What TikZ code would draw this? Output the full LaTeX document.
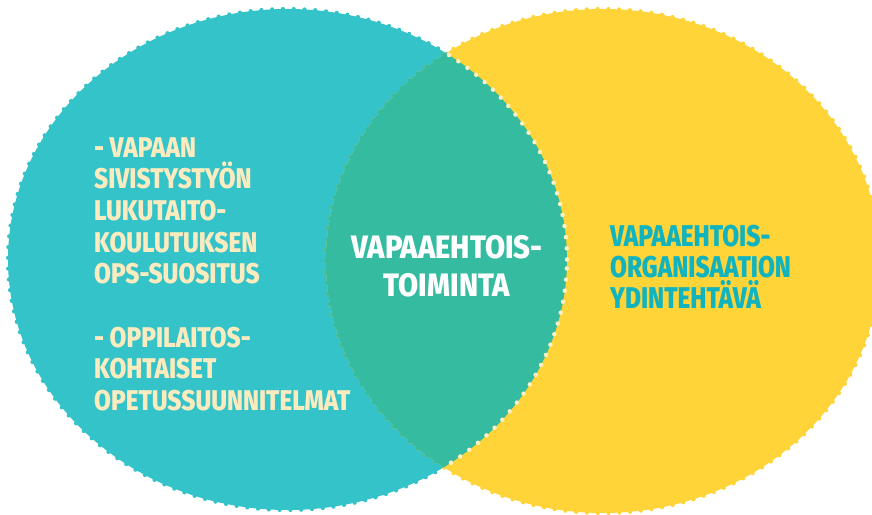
\documentclass[tikz,border=0pt]{standalone}
\usepackage{fontspec}
\setmainfont{Fira Sans}
\newfontfamily\leftfam{Fira Sans ExtraBold}[FakeStretch=0.855]
\newfontfamily\midfam{Fira Sans ExtraBold}[FakeStretch=0.9]
\newfontfamily\rightfam{Fira Sans ExtraBold}[FakeStretch=0.815]
\definecolor{tealc}{HTML}{33C3C8}
\definecolor{lensc}{HTML}{35BBA0}
\definecolor{yellc}{HTML}{FED438}
\definecolor{creamc}{HTML}{FCEBBE}
\definecolor{dotc}{HTML}{FCEFC6}
\definecolor{rtextc}{HTML}{10B3BE}
\tikzset{
  scallop/.style={line width=4.2pt, dash pattern=on 0pt off 10.8pt, line cap=round},
  creamdots/.style={draw=dotc, line width=4.5pt, dash pattern=on 0pt off 11.2pt, line cap=round},
  lefttext/.style={anchor=north west, inner sep=0pt, align=left, text=creamc,
    font={\leftfam\fontsize{28.5}{31.7}\selectfont}},
  midtext/.style={anchor=north, inner sep=0pt, align=center, text=white,
    font={\midfam\fontsize{32.4}{38}\selectfont}},
  righttext/.style={anchor=north west, inner sep=0pt, align=left, text=rtextc,
    font={\rightfam\fontsize{30}{31.2}\selectfont}}
}
\begin{document}
\begin{tikzpicture}[x=1pt,y=1pt]
\useasboundingbox (0,0) rectangle (872,514);
\def\tealE{(287.5,254.5) ellipse [x radius=279.5, y radius=250.5]}
\def\yellE{(603,253) ellipse [x radius=277, y radius=252]}
% teal circle
\fill[tealc] \tealE;
\draw[tealc, scallop] \tealE;
% yellow circle
\fill[yellc] \yellE;
\draw[yellc, scallop] \yellE;
% lens
\begin{scope}
  \clip \tealE;
  \fill[lensc] \yellE;
  \draw[lensc, scallop] \yellE;
\end{scope}
% cream dots on teal edge inside yellow
\begin{scope}
  \clip \yellE;
  \draw[creamdots] \tealE;
\end{scope}
% texts
\node[lefttext] (left) at (94,377) {- VAPAAN\\SIVISTYSTYÖN\\LUKUTAITO-\\KOULUTUKSEN\\OPS-SUOSITUS\\[31.7pt]- OPPILAITOS-\\KOHTAISET\\OPETUSSUUNNITELMAT};
\node[midtext] (mid) at (447,279) {VAPAAEHTOIS-\\TOIMINTA};
\node[righttext] (right) at (610,289) {VAPAAEHTOIS-\\ORGANISAATION\\YDINTEHTÄVÄ};
\end{tikzpicture}
\end{document}
